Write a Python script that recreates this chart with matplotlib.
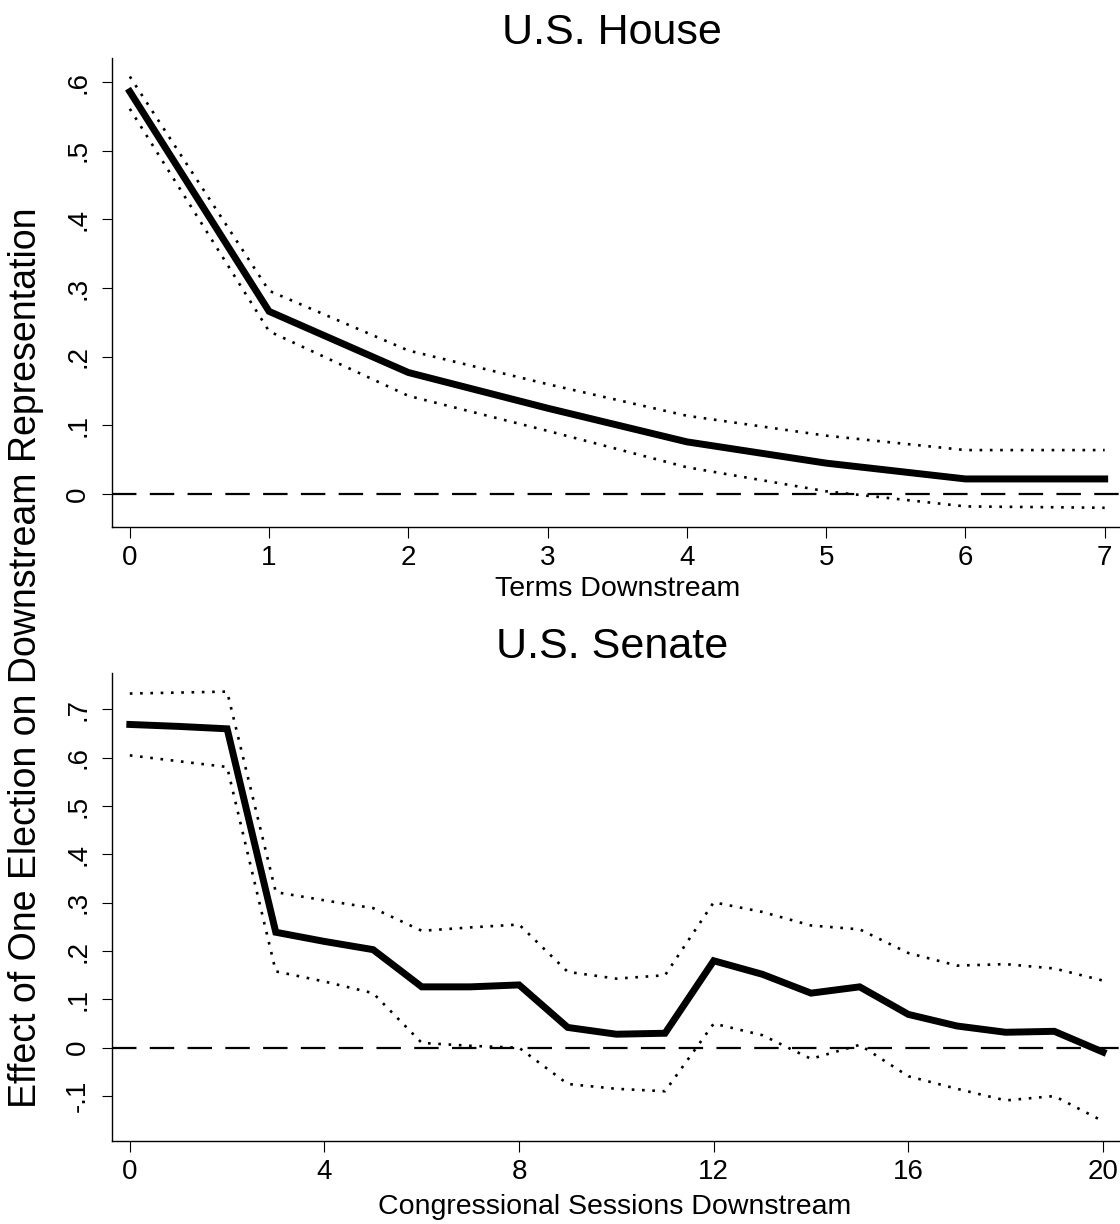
import matplotlib
matplotlib.use('Agg')
import matplotlib.pyplot as plt
import numpy as np

plt.rcParams['font.family'] = ['Liberation Sans', 'DejaVu Sans']

# --- U.S. House ---
house_x = [0, 1, 2, 3, 4, 5, 6, 7]
house_est = [0.586, 0.266, 0.177, 0.125, 0.076, 0.045, 0.022, 0.022]
house_hi = [0.608, 0.296, 0.209, 0.160, 0.114, 0.085, 0.064, 0.064]
house_lo = [0.561, 0.237, 0.143, 0.092, 0.039, 0.004, -0.018, -0.020]
house_yticks = [0, 0.1, 0.2, 0.3, 0.4, 0.5, 0.6]
house_ylabels = ['0', '.1', '.2', '.3', '.4', '.5', '.6']

# --- U.S. Senate ---
senate_x = list(range(21))
senate_est = [0.669, 0.665, 0.660, 0.239, 0.220, 0.203, 0.126, 0.126, 0.130, 0.042,
              0.028, 0.030, 0.180, 0.152, 0.113, 0.126, 0.069, 0.045, 0.032, 0.034, -0.009]
senate_hi = [0.733, 0.735, 0.737, 0.322, 0.305, 0.289, 0.242, 0.249, 0.255, 0.157,
             0.143, 0.150, 0.301, 0.281, 0.253, 0.245, 0.196, 0.170, 0.173, 0.164, 0.139]
senate_lo = [0.605, 0.593, 0.581, 0.158, 0.137, 0.113, 0.010, 0.004, 0.000, -0.075,
             -0.085, -0.090, 0.050, 0.026, -0.023, 0.006, -0.059, -0.085, -0.109, -0.100, -0.152]
senate_yticks = [-0.1, 0, 0.1, 0.2, 0.3, 0.4, 0.5, 0.6, 0.7]
senate_ylabels = ['-.1', '0', '.1', '.2', '.3', '.4', '.5', '.6', '.7']
senate_xticks = [0, 4, 8, 12, 16, 20]

W, H = 1120, 1224
fig = plt.figure(figsize=(W / 100, H / 100), dpi=100)
fig.patch.set_facecolor('white')

def fx(px): return px / W
def fy(py): return 1 - py / H

ax1 = fig.add_axes([fx(112), fy(527), fx(1120 - 112), (527 - 58) / H])
ax2 = fig.add_axes([fx(112), fy(1141), fx(1120 - 112), (1141 - 673) / H])

def estilo(ax, x, est, hi, lo, yt, yl, xt):
    # bandas punteadas, linea en cero y estimacion
    ax.plot(x, hi, color='black', linestyle=(0, (1, 2.9)), linewidth=1.9)
    ax.plot(x, lo, color='black', linestyle=(0, (1, 2.9)), linewidth=1.9)
    ax.axhline(0, color='black', linestyle=(0, (11, 6)), linewidth=1.6)
    ax.plot(x, est, color='black', linewidth=5, solid_joinstyle='miter')
    ax.spines['top'].set_visible(False)
    ax.spines['right'].set_visible(False)
    ax.spines['left'].set_linewidth(1.0)
    ax.spines['bottom'].set_linewidth(1.0)
    ax.set_yticks(yt)
    ax.set_yticklabels(yl, rotation=90, va='center')
    ax.set_xticks(xt)
    ax.tick_params(axis='x', length=8, width=0.8, labelsize=20, pad=5)
    ax.tick_params(axis='y', length=7, width=0.8, labelsize=20, pad=8)

estilo(ax1, house_x, house_est, house_hi, house_lo, house_yticks, house_ylabels, house_x)
ax1.set_xlim(-0.128, 7.11)
ax1.set_ylim(-0.048, 0.635)

estilo(ax2, senate_x, senate_est, senate_hi, senate_lo, senate_yticks, senate_ylabels, senate_xticks)
ax2.set_xlim(-0.366, 20.35)
ax2.set_ylim(-0.193, 0.7755)

fig.text(fx(612), fy(33), 'U.S. House', ha='center', va='center', fontsize=31)
fig.text(fx(612), fy(647), 'U.S. Senate', ha='center', va='center', fontsize=31)
fig.text(fx(618), fy(589), 'Terms Downstream', ha='center', va='center', fontsize=20.5)
fig.text(fx(615), fy(1207), 'Congressional Sessions Downstream', ha='center', va='center', fontsize=20.5)
fig.text(fx(26), fy(658), 'Effect of One Election on Downstream Representation',
         ha='center', va='center', rotation=90, fontsize=27)

fig.savefig('out.png', dpi=100, facecolor='white')
